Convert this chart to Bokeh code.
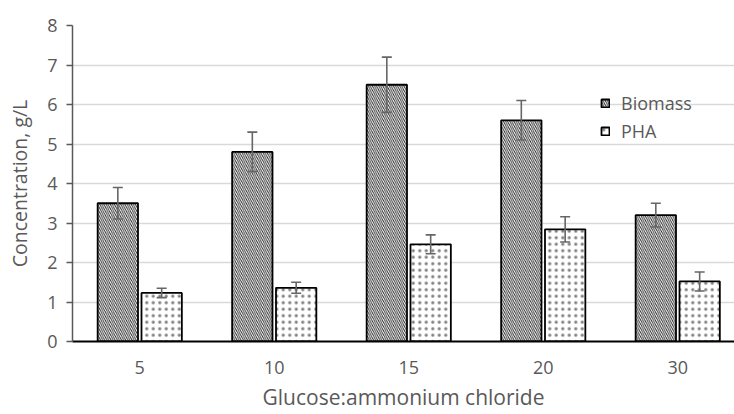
from bokeh.plotting import figure
from bokeh.models import (ColumnDataSource, Range1d, FixedTicker, Whisker, TeeHead,
                          Legend, LegendItem)
from bokeh.embed import file_html
from bokeh.resources import INLINE

categories = ["5", "10", "15", "20", "30"]
biomass = [3.5, 4.8, 6.5, 5.6, 3.2]
biomass_err = [0.4, 0.5, 0.7, 0.5, 0.3]
pha = [1.23, 1.36, 2.46, 2.84, 1.52]
pha_err = [0.12, 0.14, 0.24, 0.32, 0.24]
y_ticks = [0, 1, 2, 3, 4, 5, 6, 7, 8]

FONT = "Open Sans"
TXT = "#595959"

idx = list(range(len(categories)))
off = 0.163
bw = 0.30

src_b = ColumnDataSource(dict(
    x=[i - off for i in idx], top=biomass,
    upper=[v + e for v, e in zip(biomass, biomass_err)],
    lower=[v - e for v, e in zip(biomass, biomass_err)]))
src_p = ColumnDataSource(dict(
    x=[i + off for i in idx], top=pha,
    upper=[v + e for v, e in zip(pha, pha_err)],
    lower=[v - e for v, e in zip(pha, pha_err)]))

p = figure(width=734, height=414, output_backend="svg", toolbar_location=None,
           x_range=Range1d(-0.5, 4.422), y_range=Range1d(0, 8),
           min_border_left=72, min_border_right=0, min_border_top=25,
           min_border_bottom=73)
p.outline_line_color = None
p.background_fill_color = "white"
p.border_fill_color = "white"

rb = p.vbar(x="x", top="top", width=bw, source=src_b, fill_color="white",
            line_color="black", line_width=1.8,
            hatch_pattern="left_diagonal_line", hatch_color="#222222",
            hatch_scale=4.2, hatch_weight=0.9)
rp = p.vbar(x="x", top="top", width=bw, source=src_p, fill_color="white",
            line_color="black", line_width=1.8,
            hatch_pattern="dot", hatch_color="#808080",
            hatch_scale=6.5, hatch_weight=0.6)

for src in (src_b, src_p):
    w = Whisker(source=src, base="x", upper="upper", lower="lower",
                line_color="#666666", line_width=1.6,
                upper_head=TeeHead(size=10, line_color="#666666", line_width=1.6),
                lower_head=TeeHead(size=10, line_color="#666666", line_width=1.6))
    w.level = "annotation"
    p.add_layout(w)

# axes
p.xaxis.ticker = FixedTicker(ticks=idx)
p.xaxis.major_label_overrides = {i: c for i, c in zip(idx, categories)}
p.xaxis.major_tick_line_color = None
p.xaxis.minor_tick_line_color = None
p.xaxis.major_tick_out = 0
p.xaxis.major_tick_in = 0
p.xaxis.axis_line_color = "black"
p.xaxis.axis_line_width = 1.8
p.xaxis.major_label_standoff = 19
p.xaxis.major_label_text_font = FONT
p.xaxis.major_label_text_font_size = "18px"
p.xaxis.major_label_text_color = TXT
p.xaxis.axis_label = "Glucose:ammonium chloride"
p.xaxis.axis_label_text_font = FONT
p.xaxis.axis_label_text_font_size = "21px"
p.xaxis.axis_label_text_font_style = "normal"
p.xaxis.axis_label_text_color = TXT
p.xaxis.axis_label_standoff = 6

p.yaxis.ticker = FixedTicker(ticks=y_ticks)
p.yaxis.minor_tick_line_color = None
p.yaxis.major_tick_in = 0
p.yaxis.major_tick_out = 6
p.yaxis.major_tick_line_color = "#595959"
p.yaxis.major_tick_line_width = 1.5
p.yaxis.axis_line_color = "#595959"
p.yaxis.axis_line_width = 1.5
p.yaxis.major_label_standoff = 9
p.yaxis.major_label_text_font = FONT
p.yaxis.major_label_text_font_size = "18px"
p.yaxis.major_label_text_color = TXT
p.yaxis.axis_label = "Concentration, g/L"
p.yaxis.axis_label_text_font = FONT
p.yaxis.axis_label_text_font_size = "19.5px"
p.yaxis.axis_label_text_font_style = "normal"
p.yaxis.axis_label_text_color = TXT
p.yaxis.axis_label_standoff = 11

p.xgrid.grid_line_color = None
p.ygrid.grid_line_color = "#d9d9d9"
p.ygrid.grid_line_width = 1.5

legend = Legend(items=[LegendItem(label="Biomass", renderers=[rb]),
                       LegendItem(label="PHA", renderers=[rp])],
                location=(528, 198), orientation="vertical",
                background_fill_alpha=0, border_line_color=None,
                padding=0, margin=0, spacing=4, label_height=20,
                glyph_width=10, glyph_height=10, label_standoff=11,
                label_text_font=FONT, label_text_font_size="18px",
                label_text_color=TXT)
p.add_layout(legend, "center")

open("out.html", "w").write(file_html(p, INLINE))
